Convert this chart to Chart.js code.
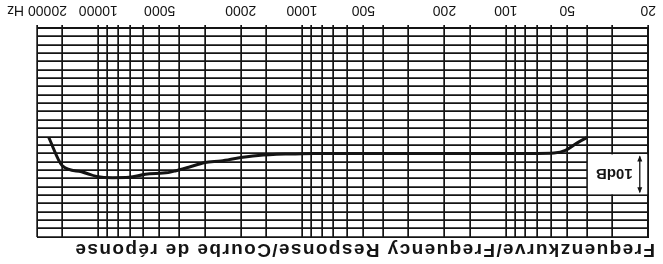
<!DOCTYPE html>
<html><head><meta charset="utf-8">
<script src="https://cdn.jsdelivr.net/npm/chart.js@4/dist/chart.umd.min.js"></script>
<style>
html,body{margin:0;padding:0;background:#fff;overflow:hidden;}
#wrap{width:663px;height:264px;transform:rotate(180deg);transform-origin:50% 50%;}
canvas{display:block;}
</style></head><body>
<div id="wrap"><canvas id="c" width="663" height="264"></canvas></div>
<script>
// Grid frequencies (vertical lines) and labelled frequencies
const gridFreqs = [20,30,40,50,60,70,80,90,100,150,200,300,400,500,600,700,800,900,1000,1500,2000,3000,4000,5000,6000,7000,8000,9000,10000,15000,20000];
const labelFreqs = [20,50,100,200,500,1000,2000,5000,10000,20000];
const lastLabelUnit = 'Hz';
// Response curve (Hz, dB on a 0..50 dB grid, 2 dB per division)
const curveFreqs = [40, 45, 51, 58, 70, 100, 200, 500, 1000, 1550, 2000, 2500, 3000, 3600, 4200, 4540, 5880, 7060, 8510, 10200, 12100, 15000, 17500];
const curveDb    = [26.2, 27.6, 29.3, 29.9, 30.0, 30.0, 30.0, 30.0, 30.1, 30.4, 31.0, 31.8, 32.2, 33.3, 34.2, 34.6, 35.0, 35.7, 35.8, 35.5, 34.4, 33.0, 26.2];
const dbRange = [0, 50];
const dbStep = 2;
// Scale reference box
const boxFreqs = [20, 40];
const boxDb = [30, 40];
const boxText = '10dB';
const titleText = 'Frequenzkurve/Frequency Response/Courbe de réponse';

const INK = '#141414';

const overlay = {
  id: 'overlay',
  beforeDatasetsDraw(chart) {
    const ctx = chart.ctx, xs = chart.scales.x, ys = chart.scales.y;
    const x0 = xs.getPixelForValue(boxFreqs[0]), x1 = xs.getPixelForValue(boxFreqs[1]);
    const y0 = ys.getPixelForValue(boxDb[1]), y1 = ys.getPixelForValue(boxDb[0]);
    ctx.save();
    ctx.fillStyle = '#fff';
    ctx.fillRect(x0 + 1, y0 + 1, x1 - x0 - 2, y1 - y0 - 2);
    // double arrow
    const ax = xs.getPixelForValue(22);
    ctx.strokeStyle = INK; ctx.fillStyle = INK; ctx.lineWidth = 1.3;
    ctx.beginPath(); ctx.moveTo(ax, y0 + 3); ctx.lineTo(ax, y1 - 3); ctx.stroke();
    ctx.beginPath(); ctx.moveTo(ax, y0 + 2); ctx.lineTo(ax - 2.5, y0 + 8); ctx.lineTo(ax + 2.5, y0 + 8); ctx.closePath(); ctx.fill();
    ctx.beginPath(); ctx.moveTo(ax, y1 - 2); ctx.lineTo(ax - 2.5, y1 - 8); ctx.lineTo(ax + 2.5, y1 - 8); ctx.closePath(); ctx.fill();
    ctx.font = 'bold 15px "Liberation Sans", Arial, sans-serif';
    ctx.textAlign = 'center'; ctx.textBaseline = 'middle';
    ctx.fillText(boxText, (ax + x1) / 2 - 1, (y0 + y1) / 2 + 1);
    ctx.restore();
  },
  afterDraw(chart) {
    const ctx = chart.ctx;
    ctx.save();
    ctx.fillStyle = INK;
    ctx.font = 'bold 19px "Liberation Sans", Arial, sans-serif';
    if ('letterSpacing' in ctx) ctx.letterSpacing = '1.4px';
    ctx.textAlign = 'left'; ctx.textBaseline = 'alphabetic';
    ctx.fillText(titleText, 8, 20);
    ctx.restore();
  }
};

new Chart(document.getElementById('c'), {
  type: 'line',
  data: {
    datasets: [{
      data: curveFreqs.map((f, i) => ({x: f, y: curveDb[i]})),
      borderColor: INK,
      borderWidth: 3,
      pointRadius: 0,
      cubicInterpolationMode: 'monotone',
      fill: false
    }]
  },
  options: {
    responsive: false,
    animation: false,
    devicePixelRatio: 1,
    layout: { padding: { left: 7, right: 33, top: 27, bottom: 0 } },
    plugins: { legend: { display: false }, tooltip: { enabled: false }, title: { display: false } },
    scales: {
      x: {
        type: 'logarithmic',
        min: 20, max: 20000,
        afterBuildTicks(scale) { scale.ticks = gridFreqs.map(v => ({value: v})); },
        afterFit(scale) { scale.height = 28; },
        ticks: {
          autoSkip: false, maxRotation: 0, minRotation: 0,
          padding: 7,
          color: INK,
          font: { family: '"Liberation Sans", Arial, sans-serif', size: 14 },
          callback(v) {
            if (!labelFreqs.includes(v)) return '';
            return v === labelFreqs[labelFreqs.length - 1] ? v + ' ' + lastLabelUnit : String(v);
          }
        },
        grid: { color: INK, lineWidth: 1.7, tickLength: 3, drawTicks: true },
        border: { color: INK, width: 2 }
      },
      y: {
        min: dbRange[0], max: dbRange[1],
        afterFit(scale) { scale.width = 0; },
        ticks: { display: false, stepSize: dbStep },
        grid: { color: INK, lineWidth: 1.7, drawTicks: false },
        border: { color: INK, width: 2 }
      }
    }
  },
  plugins: [overlay]
});
</script>
</body></html>
